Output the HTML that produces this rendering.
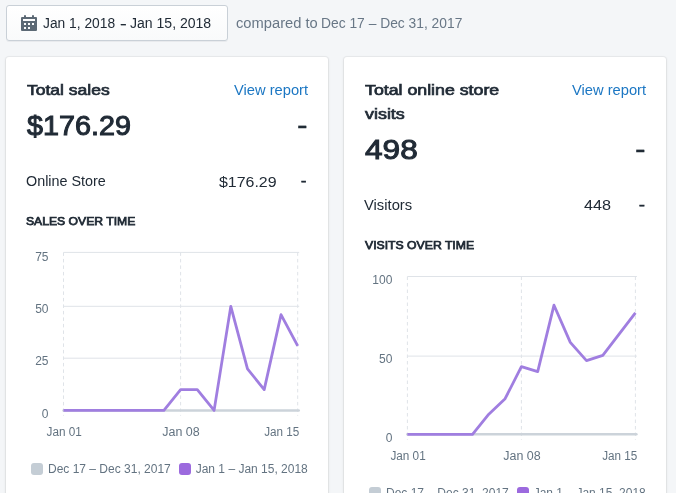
<!DOCTYPE html>
<html><head><meta charset="utf-8">
<style>
*{box-sizing:border-box;margin:0;padding:0}
html,body{width:676px;height:493px;overflow:hidden;background:#f4f6f8;font-family:"Liberation Sans",sans-serif;color:#212b36}
.abs{position:absolute;white-space:nowrap}
.btn{position:absolute;left:6px;top:5px;width:222px;height:36px;border:1px solid #c9d0d7;border-radius:3px;background:linear-gradient(#fff,#f9fafb);box-shadow:0 1px 0 rgba(22,29,37,.05)}
.card{position:absolute;top:57px;width:322px;height:460px;background:#fff;border-radius:3px;box-shadow:0 0 0 1px rgba(63,63,68,.05),0 1px 3px rgba(63,63,68,.15)}
</style></head><body>
<div class="btn"></div>
<svg class="abs" style="left:19px;top:13px" width="20" height="20" viewBox="0 0 20 20"><path fill="#5c6975" fill-rule="evenodd" d="M17 4h-2V3a1 1 0 1 0-2 0v1H7V3a1 1 0 1 0-2 0v1H3a1 1 0 0 0-1 1v12a1 1 0 0 0 1 1h14a1 1 0 0 0 1-1V5a1 1 0 0 0-1-1zM4 8h12V6H4v2zm9 4h2v-2h-2v2zm-4 0h2v-2H9v2zm0 4h2v-2H9v2zm-4-4h2v-2H5v2zm0 4h2v-2H5v2z"/></svg>

<div class="card" style="left:6px"></div>
<div class="card" style="left:344px"></div>
<div class="abs" id="b1" style="left:42.50px;top:14.00px;font-size:14px;line-height:18px;transform-origin:0 0;transform:scaleX(0.9855)">Jan 1, 2018</div>
<div class="abs" id="b1b" style="left:119.50px;top:15.00px;font-size:14px;-webkit-text-stroke:0.2px;line-height:18px;transform-origin:0 0;transform:scaleX(1.4468)">-</div>
<div class="abs" id="b1c" style="left:129.50px;top:14.00px;font-size:14px;line-height:18px;transform-origin:0 0;transform:scaleX(1.0026)">Jan 15, 2018</div>
<div class="abs" id="b2" style="left:235.50px;top:14.00px;font-size:14px;line-height:18px;color:#687786;transform-origin:0 0;transform:scaleX(1.0504)">compared to</div>
<div class="abs" id="b2b" style="left:320.50px;top:14.00px;font-size:14px;line-height:18px;color:#687786;transform-origin:0 0;transform:scaleX(0.9871)">Dec 17 – Dec 31, 2017</div>
<div class="abs" id="l1" style="left:26.50px;top:80.00px;font-size:15px;-webkit-text-stroke:0.7px;line-height:20px;transform-origin:0 0;transform:scaleX(1.1671)">Total sales</div>
<div class="abs" id="l2" style="left:233.50px;top:81.00px;font-size:14px;line-height:18px;color:#1c77c3;transform-origin:0 0;transform:scaleX(1.0497)">View report</div>
<div class="abs" id="l3" style="left:26.50px;top:108.50px;font-size:27px;-webkit-text-stroke:1px;line-height:34px;transform-origin:0 0;transform:scaleX(1.0649)">$176.29</div>
<div class="abs" id="l4" style="left:296.50px;top:108.00px;font-size:27px;-webkit-text-stroke:0.4px;line-height:34px;transform-origin:0 0;transform:scaleX(1.1689)">-</div>
<div class="abs" id="l5" style="left:25.50px;top:172.00px;font-size:14px;line-height:18px;transform-origin:0 0;transform:scaleX(1.0251)">Online Store</div>
<div class="abs" id="l6" style="left:218.50px;top:172.50px;font-size:14px;line-height:18px;transform-origin:0 0;transform:scaleX(1.1379)">$176.29</div>
<div class="abs" id="l7" style="left:300.50px;top:172.00px;font-size:14px;-webkit-text-stroke:0.7px;line-height:18px;transform-origin:0 0;transform:scaleX(1.1242)">-</div>
<div class="abs" id="l8" style="left:25.50px;top:213.00px;font-size:11.5px;-webkit-text-stroke:0.75px;line-height:16px;transform-origin:0 0;transform:scaleX(1.0578)">SALES OVER TIME</div>
<div class="abs" id="r1" style="left:364.50px;top:80.00px;font-size:15px;-webkit-text-stroke:0.7px;line-height:20px;transform-origin:0 0;transform:scaleX(1.1834)">Total online store</div>
<div class="abs" id="r1b" style="left:364.50px;top:104.00px;font-size:15px;-webkit-text-stroke:0.7px;line-height:20px;transform-origin:0 0;transform:scaleX(1.1936)">visits</div>
<div class="abs" id="r2" style="left:571.50px;top:81.00px;font-size:14px;line-height:18px;color:#1c77c3;transform-origin:0 0;transform:scaleX(1.0497)">View report</div>
<div class="abs" id="r3" style="left:364.50px;top:133.00px;font-size:27px;-webkit-text-stroke:1px;line-height:34px;transform-origin:0 0;transform:scaleX(1.1696)">498</div>
<div class="abs" id="r4" style="left:634.50px;top:132.00px;font-size:27px;-webkit-text-stroke:0.4px;line-height:34px;transform-origin:0 0;transform:scaleX(1.1689)">-</div>
<div class="abs" id="r5" style="left:363.50px;top:196.00px;font-size:14px;line-height:18px;transform-origin:0 0;transform:scaleX(1.0549)">Visitors</div>
<div class="abs" id="r6" style="left:583.50px;top:196.00px;font-size:14px;line-height:18px;transform-origin:0 0;transform:scaleX(1.1571)">448</div>
<div class="abs" id="r7" style="left:638.50px;top:196.00px;font-size:14px;-webkit-text-stroke:0.7px;line-height:18px;transform-origin:0 0;transform:scaleX(1.2439)">-</div>
<div class="abs" id="r8" style="left:364.50px;top:237.00px;font-size:11.5px;-webkit-text-stroke:0.75px;line-height:16px;transform-origin:0 0;transform:scaleX(1.0626)">VISITS OVER TIME</div>



<svg class="abs" style="left:0;top:0;font-size:12px;fill:#637381" width="676" height="493" viewBox="0 0 676 493">
<g>
<line x1="63.5" x2="299.2" y1="252.4" y2="252.4" stroke="#dfe3e8" stroke-width="1"/>
<line x1="63.5" x2="299.2" y1="306.3" y2="306.3" stroke="#dfe3e8" stroke-width="1"/>
<line x1="63.5" x2="299.2" y1="358.2" y2="358.2" stroke="#dfe3e8" stroke-width="1"/>
<line x1="63.50" x2="63.50" y1="252.4" y2="415.7" stroke="#dfe3e8" stroke-width="1" stroke-dasharray="3.5 3"/>
<line x1="180.60" x2="180.60" y1="252.4" y2="415.7" stroke="#dfe3e8" stroke-width="1" stroke-dasharray="3.5 3"/>
<line x1="297.70" x2="297.70" y1="252.4" y2="415.7" stroke="#dfe3e8" stroke-width="1" stroke-dasharray="3.5 3"/>
<line x1="63.5" x2="298.7" y1="410.4" y2="410.4" stroke="#ccd3da" stroke-width="2.5" stroke-linecap="round"/>
<polyline points="63.5,410.4 80.2,410.4 97.0,410.4 113.7,410.4 130.4,410.4 147.1,410.4 163.9,410.4 180.6,389.6 197.3,389.6 214.1,410.4 230.8,306.4 247.5,368.8 264.2,389.6 281.0,314.7 297.7,345.9" fill="none" stroke="#a07ee0" stroke-width="2.8" stroke-linejoin="round" stroke-linecap="butt"/>
<text x="48.5" y="260.5" text-anchor="end">75</text>
<text x="48.5" y="312.5" text-anchor="end">50</text>
<text x="48.5" y="364.8" text-anchor="end">25</text>
<text x="48.5" y="418.1" text-anchor="end">0</text>
<text x="46.6" y="435.9" textLength="35.3" lengthAdjust="spacingAndGlyphs">Jan 01</text>
<text x="162.3" y="435.9" textLength="37.4" lengthAdjust="spacingAndGlyphs">Jan 08</text>
<text x="264.2" y="435.9" textLength="35.1" lengthAdjust="spacingAndGlyphs">Jan 15</text>
</g>
<g>
<line x1="407.4" x2="636.9" y1="276.5" y2="276.5" stroke="#dfe3e8" stroke-width="1"/>
<line x1="407.4" x2="636.9" y1="356.1" y2="356.1" stroke="#dfe3e8" stroke-width="1"/>
<line x1="407.40" x2="407.40" y1="276.5" y2="439.7" stroke="#dfe3e8" stroke-width="1" stroke-dasharray="3.5 3"/>
<line x1="521.40" x2="521.40" y1="276.5" y2="439.7" stroke="#dfe3e8" stroke-width="1" stroke-dasharray="3.5 3"/>
<line x1="635.40" x2="635.40" y1="276.5" y2="439.7" stroke="#dfe3e8" stroke-width="1" stroke-dasharray="3.5 3"/>
<line x1="407.4" x2="636.4" y1="434.3" y2="434.3" stroke="#ccd3da" stroke-width="2.5" stroke-linecap="round"/>
<polyline points="407.4,434.3 423.7,434.3 440.0,434.3 456.3,434.3 472.5,434.3 488.8,414.2 505.1,398.7 521.4,366.7 537.7,371.6 554.0,305.2 570.3,342.4 586.5,360.6 602.8,355.4 619.1,334.1 635.4,312.8" fill="none" stroke="#a07ee0" stroke-width="2.8" stroke-linejoin="round" stroke-linecap="butt"/>
<text x="392.4" y="283.7" text-anchor="end">100</text>
<text x="392.4" y="362.5" text-anchor="end">50</text>
<text x="392.4" y="441.6" text-anchor="end">0</text>
<text x="390.4" y="460" textLength="35.3" lengthAdjust="spacingAndGlyphs">Jan 01</text>
<text x="503.3" y="460" textLength="37.4" lengthAdjust="spacingAndGlyphs">Jan 08</text>
<text x="602.2" y="460" textLength="35.1" lengthAdjust="spacingAndGlyphs">Jan 15</text>
</g>
<g>
<rect x="31" y="463" width="12" height="12" rx="3" fill="#c4cdd5"/>
<text x="48" y="473.3">Dec 17 – Dec 31, 2017</text>
<rect x="179" y="463" width="12" height="12" rx="3" fill="#9c6ade"/>
<text x="195.7" y="473.3">Jan 1 – Jan 15, 2018</text>
<rect x="369" y="487" width="12" height="12" rx="3" fill="#c4cdd5"/>
<text x="386" y="497.3">Dec 17 – Dec 31, 2017</text>
<rect x="517" y="487" width="12" height="12" rx="3" fill="#9c6ade"/>
<text x="533.7" y="497.3">Jan 1 – Jan 15, 2018</text>
</g>
</svg>
</body></html>
